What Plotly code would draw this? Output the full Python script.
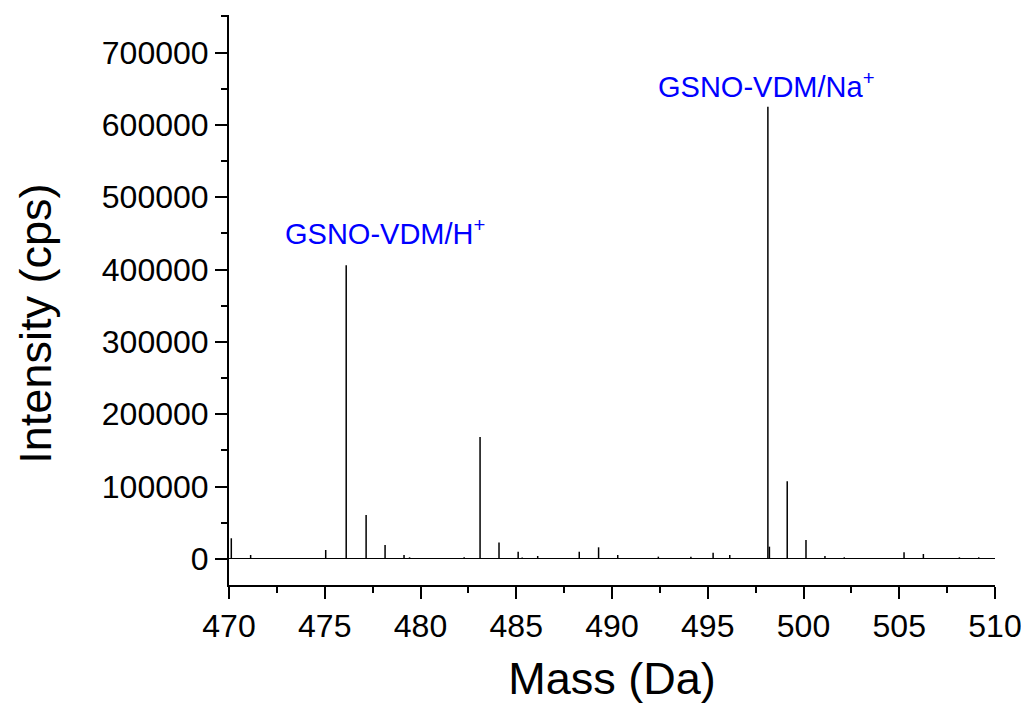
import plotly.graph_objects as go

# Peak masses (Da) and intensities (cps)
masses = [470.12, 471.13, 475.05, 476.12, 477.16, 478.15, 479.14, 479.43, 482.28,
          483.11, 484.10, 485.10, 485.31, 486.12, 488.29, 489.30, 490.30, 492.42,
          494.12, 495.28, 496.15, 498.14, 498.22, 499.15, 500.13, 501.12, 502.13,
          505.25, 506.26, 508.14, 509.15]
intensities = [28600, 5500, 12400, 406000, 60900, 19400, 5500, 2300, 2300,
               168500, 22600, 10100, 2000, 4100, 10100, 16100, 5500, 3200,
               3200, 8700, 5500, 625000, 17000, 107500, 26300, 4100, 2300,
               9200, 6900, 2300, 2300]

labels = ["GSNO-VDM/H<sup>+</sup>", "GSNO-VDM/Na<sup>+</sup>"]
label_x = [478.15, 498.05]
label_y = [425000, 627000]

x_title = "Mass (Da)"
y_title = "Intensity (cps)"

xs, ys = [], []
for m, h in zip(masses, intensities):
    xs += [m, m, None]
    ys += [0, h, None]

fig = go.Figure()
fig.add_trace(go.Scatter(x=xs, y=ys, mode="lines",
                         line=dict(color="black", width=1.5),
                         hoverinfo="skip", showlegend=False))

for t, lx, ly in zip(labels, label_x, label_y):
    fig.add_annotation(x=lx, y=ly, xref="x", yref="y", text=t, showarrow=False,
                       xanchor="center", yanchor="bottom",
                       font=dict(family="Liberation Sans, Arial", size=29, color="#0000ff"))

# y-axis title (placed slightly below the axis centre, as in the reference)
fig.add_annotation(x=-0.2523, y=0.458, xref="paper", yref="paper", text=y_title,
                   showarrow=False, textangle=-90, xanchor="center", yanchor="middle",
                   font=dict(family="Liberation Sans, Arial", size=45, color="black"))

fig.update_layout(
    width=1021, height=700,
    margin=dict(l=221, r=31, t=7, b=123),
    paper_bgcolor="white", plot_bgcolor="white",
    font=dict(family="Liberation Sans, Arial", color="black"),
    showlegend=False,
)
fig.update_xaxes(
    range=[470, 510], tickmode="linear", tick0=470, dtick=5,
    ticks="outside", ticklen=12, tickwidth=2, tickcolor="black",
    minor=dict(dtick=2.5, tick0=470, ticks="outside", ticklen=6, tickwidth=2, tickcolor="black"),
    showline=True, linecolor="black", linewidth=2, mirror=False,
    showgrid=False, zeroline=False,
    tickfont=dict(size=32, color="black"),
    title=dict(text=x_title, font=dict(size=45, color="black"), standoff=19),
)
fig.update_yaxes(
    range=[-36000, 752000], tickmode="linear", tick0=0, dtick=100000, tickformat="d",
    ticks="outside", ticklen=12, tickwidth=2, tickcolor="black",
    minor=dict(dtick=50000, tick0=0, ticks="outside", ticklen=6, tickwidth=2, tickcolor="black"),
    showline=True, linecolor="black", linewidth=2, mirror=False,
    showgrid=False, zeroline=True, zerolinecolor="black", zerolinewidth=1,
    tickfont=dict(size=32, color="black"),
)

fig.write_html("out.html")
